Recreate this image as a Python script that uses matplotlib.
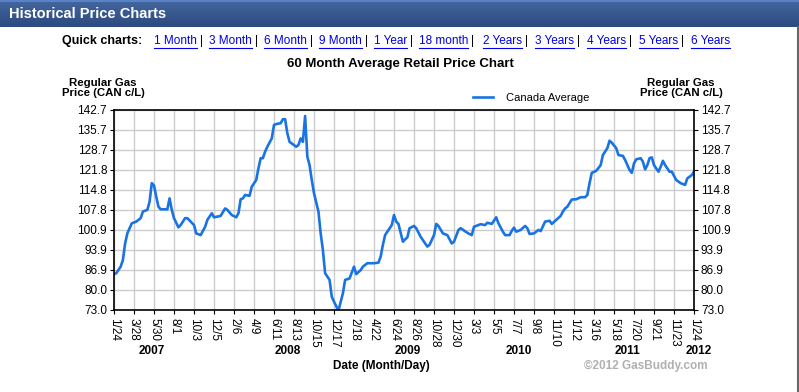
import numpy as np
import matplotlib
matplotlib.use("Agg")
import matplotlib.pyplot as plt
from matplotlib.lines import Line2D

plt.rcParams['font.family'] = ['Liberation Sans', 'DejaVu Sans']

# weeks since 2007-01-24 and average price (CAN c/L)
weeks = [0, 1, 3, 4, 5, 6, 8, 10, 12, 13, 15, 16, 17, 18, 19, 20, 21, 24, 25, 26,
         27, 29, 30, 32, 33, 36, 37, 39, 41, 42, 44, 45, 48, 50, 51, 53, 55, 56, 57, 58,
         59, 61, 62, 64, 65, 66, 67, 68, 69, 71, 72, 73, 75, 76, 77, 78, 79, 82, 83, 84,
         85, 86, 87, 88, 89, 90, 92, 93, 94, 95, 97, 98, 99, 101, 103, 104, 106, 108, 109, 111,
         112, 114, 117, 119, 120, 121, 122, 123, 125, 126, 127, 128, 130, 131, 132, 133, 135, 136, 138, 141,
         142, 144, 145, 146, 148, 150, 152, 153, 155, 156, 159, 161, 162, 165, 167, 168, 170, 172, 173, 175,
         176, 178, 179, 180, 181, 183, 185, 186, 187, 189, 191, 192, 194, 196, 197, 199, 201, 202, 203, 204,
         206, 208, 210, 212, 213, 214, 215, 217, 219, 220, 222, 223, 224, 226, 227, 229, 230, 232, 233, 234,
         235, 237, 238, 239, 240, 241, 242, 243, 245, 246, 247, 248, 250, 251, 253, 255, 257, 258, 260, 261]
price = [85.5, 85.8, 88.1, 90.4, 96.2, 99.7, 103.2, 103.8, 105.0, 107.3, 107.9, 110.7, 117.2, 116.4, 112.5, 109.0, 108.1, 108.1, 111.9, 107.9,
         105.0, 101.8, 102.6, 105.0, 105.0, 102.6, 99.7, 99.1, 102.0, 104.4, 106.7, 105.3, 105.8, 108.4, 107.9, 106.1, 105.3, 106.7, 111.6, 111.9,
         113.1, 112.8, 116.0, 118.3, 122.4, 125.9, 125.9, 128.2, 129.9, 132.8, 137.5, 137.8, 138.1, 139.5, 139.5, 134.6, 131.6, 129.9, 130.5, 132.8,
         131.6, 140.6, 126.4, 123.5, 118.3, 113.7, 107.3, 99.7, 93.9, 85.8, 83.5, 77.6, 75.9, 72.8, 78.8, 83.5, 84.0, 88.1, 85.5, 86.9,
         88.1, 89.3, 89.3, 89.5, 91.6, 95.7, 99.1, 100.3, 102.6, 106.1, 103.8, 103.0, 96.8, 97.6, 98.3, 101.5, 102.3, 101.5, 98.5, 95.1,
         95.7, 99.1, 103.0, 102.3, 99.7, 99.1, 96.2, 96.8, 100.9, 101.5, 99.9, 99.1, 102.0, 102.9, 102.6, 103.4, 103.0, 105.3, 103.2, 100.3,
         99.1, 99.1, 100.6, 101.7, 100.3, 100.9, 102.3, 101.5, 99.5, 99.7, 100.9, 100.5, 103.8, 104.1, 103.0, 104.4, 105.8, 107.3, 108.4, 109.0,
         111.5, 111.6, 112.3, 112.3, 113.1, 117.2, 120.8, 121.5, 123.5, 127.0, 129.4, 132.0, 131.3, 129.4, 127.0, 126.7, 125.3, 121.8, 120.8, 124.1,
         125.5, 125.9, 124.7, 122.0, 123.5, 125.9, 126.2, 123.5, 121.2, 122.9, 125.0, 123.5, 121.2, 121.2, 118.3, 117.2, 116.6, 118.9, 120.0, 121.2]

ytick_labels = ['73.0', '80.0', '86.9', '93.9', '100.9', '107.8', '114.8', '121.8', '128.7', '135.7', '142.7']
xtick_labels = ['1/24', '3/28', '5/30', '8/1', '10/3', '12/5', '2/6', '4/9', '6/11', '8/13',
                '10/15', '12/17', '2/18', '4/22', '6/24', '8/26', '10/28', '12/30', '3/3', '5/5',
                '7/7', '9/8', '11/10', '1/12', '3/16', '5/18', '7/20', '9/21', '11/23', '1/24']
years = ['2007', '2008', '2009', '2010', '2011', '2012']
year_pos = [17, 78, 132, 182, 231, 263]
quick = ['1 Month', '3 Month', '6 Month', '9 Month', '1 Year', '18 month',
         '2 Years', '3 Years', '4 Years', '5 Years', '6 Years']
quick_x = [154, 209, 264, 319, 374, 419, 483, 535, 587, 639, 691]

W, H = 799, 392
fig = plt.figure(figsize=(W / 100, H / 100), dpi=100)

def fx(px):
    return px / W

def fy(py):
    return 1 - py / H

# header bar
hax = fig.add_axes([0, 1 - 27 / H, 1, 27 / H])
grad = np.linspace(0, 1, 50).reshape(-1, 1)
cmap = matplotlib.colors.LinearSegmentedColormap.from_list('hdr', ['#45679f', '#2b4a80'])
hax.imshow(grad, aspect='auto', cmap=cmap, extent=[0, 1, 0, 1])
hax.axhline(0.97, color='#5a82c8', lw=1.5)
hax.set_axis_off()
hax.text(0.011, 0.5, 'Historical Price Charts', color='white', fontsize=10.5,
         fontweight='bold', va='center', ha='left', transform=hax.transAxes)

# right border
fig.add_artist(Line2D([797.5 / W, 797.5 / W], [0, 1 - 27 / H], color='#666666', lw=1.5))

# quick chart links
fig.text(fx(142), fy(41), 'Quick charts:', fontsize=9, fontweight='bold', ha='right', va='center')
fig.canvas.draw()
r = fig.canvas.get_renderer()
for i, (q, x) in enumerate(zip(quick, quick_x)):
    t = fig.text(fx(x), fy(41), q, fontsize=8.5, color='#0000ee', ha='left', va='center')
    bb = t.get_window_extent(renderer=r)
    fig.add_artist(Line2D([bb.x0 / W, bb.x1 / W], [fy(48), fy(48)], color='#0000ee', lw=0.8))
    if i < len(quick) - 1:
        fig.text((bb.x1 + 3) / W, fy(41), '|', fontsize=8.5, ha='left', va='center')

fig.text(fx(400), fy(64), '60 Month Average Retail Price Chart', fontsize=9.5,
         fontweight='bold', ha='center', va='center')
fig.text(fx(103), fy(88), 'Regular Gas\nPrice (CAN c/L)', fontsize=8.2, fontweight='bold',
         ha='center', va='center', linespacing=1.0)
fig.text(fx(681), fy(88), 'Regular Gas\nPrice (CAN c/L)', fontsize=8.2, fontweight='bold',
         ha='center', va='center', linespacing=1.0)

ax = fig.add_axes([114 / W, 82 / H, 580 / W, 200 / H])
ax.plot(weeks, price, color='#1a73e3', lw=1.9, solid_joinstyle='round', label='Canada Average')
ax.set_xlim(0, 261)
ax.set_ylim(73.0, 142.7)
ax.set_yticks(np.linspace(73.0, 142.7, 11))
ax.set_yticklabels(ytick_labels, fontsize=8.5)
ax.set_xticks(np.arange(0, 262, 9))
ax.set_xticklabels(xtick_labels, rotation=-90, fontsize=8.5, va='top', ha='center')
ax.tick_params(axis='y', left=True, right=True, labelleft=True, labelright=True,
               length=3, pad=2)
ax.tick_params(axis='x', length=3, pad=3)
ax.grid(True, color='#cccccc', lw=1)
ax.set_axisbelow(True)
for s in ax.spines.values():
    s.set_color('black')
    s.set_linewidth(1.2)

ax.legend(loc='lower left', bbox_to_anchor=(352 / 580, 1.0), frameon=False, fontsize=8,
          handlelength=1.8, borderpad=0.1, handletextpad=1.2)

for y, xp in zip(years, year_pos):
    fig.text(fx(114 + xp / 261 * 580), fy(351), y, fontsize=8.5, fontweight='bold',
             ha='center', va='center')

fig.text(fx(381), fy(366), 'Date (Month/Day)', fontsize=8.5, fontweight='bold', ha='center', va='center')
fig.text(fx(646), fy(366), '\u00a92012 GasBuddy.com', fontsize=8.5, fontweight='bold',
         color='#b0b0b0', ha='center', va='center')

fig.savefig('out.png', dpi=100, facecolor='white')
